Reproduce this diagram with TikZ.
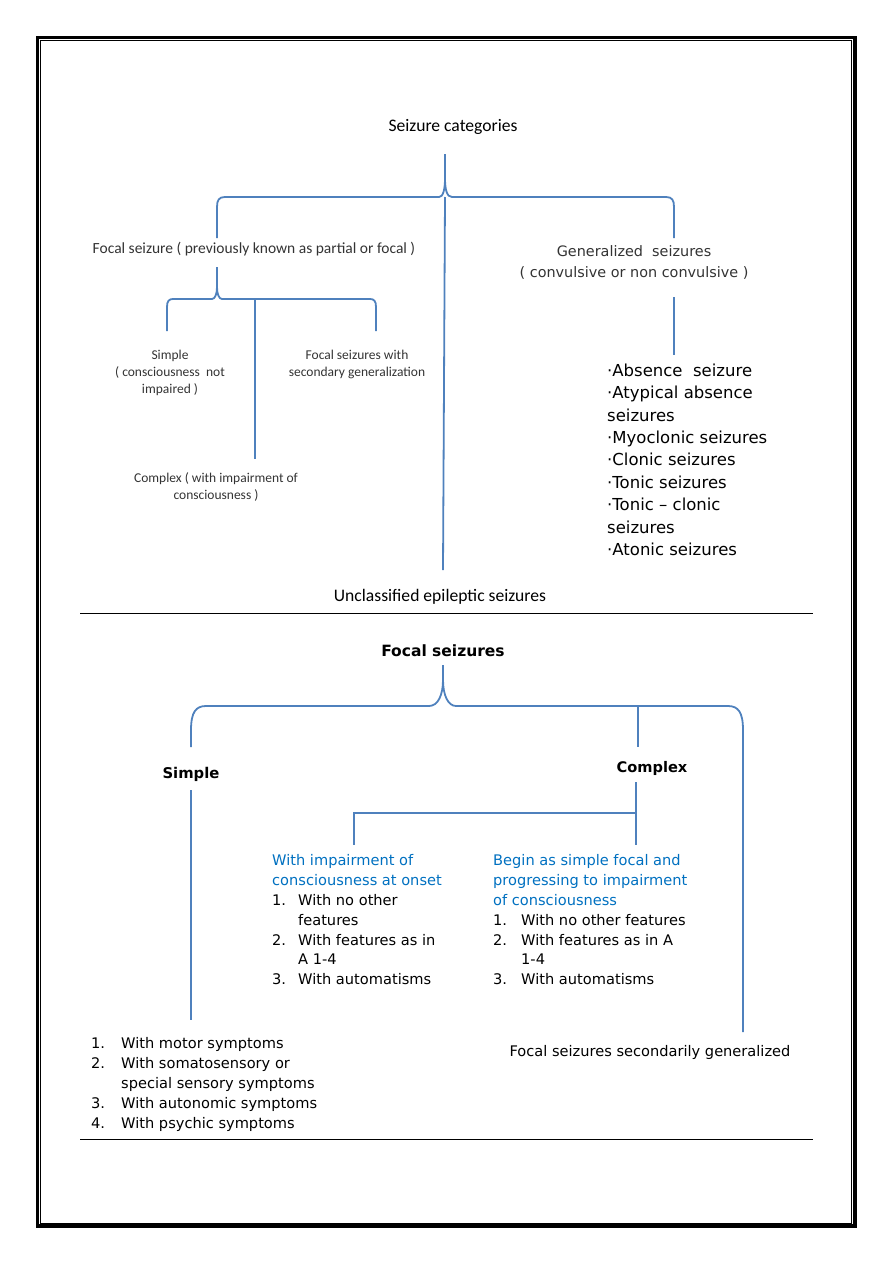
\documentclass[tikz,border=0pt]{standalone}
\usepackage{fontspec}
\setmainfont{Carlito}
\newfontfamily\comic{DejaVu Sans}

\definecolor{linkblue}{RGB}{79,129,189}
\definecolor{textblue}{RGB}{0,112,192}

\newcommand\bigcal{\fontsize{17.6}{21}\selectfont}
\newcommand\midcal{\fontsize{15.5}{19}\selectfont}
\newcommand\smallcal{\fontsize{13.5}{17}\selectfont}
\newcommand\comictext{\comic\fontsize{14.6}{19.9}\selectfont}

\tikzset{
  link/.style={draw=linkblue, line width=1.8pt},
  lbl/.style={inner sep=0pt, align=center},
  listbox/.style={inner sep=0pt, anchor=north west},
}

\begin{document}
\begin{tikzpicture}[x=1pt,y=-1pt]
\useasboundingbox (0,0) rectangle (893,1263);
% page frame
\draw[line width=3.3pt] (37.7,37.7) rectangle (855,1226);
\draw[line width=1pt] (40.8,40.8) rectangle (851.8,1223.3);
\draw[line width=1pt] (80,613) coordinate (ruleA) -- (813,613);
\draw[line width=1pt] (80,1139) coordinate (ruleB) -- (813,1139);

% seizure categories
\node[lbl,font=\bigcal] (cat) at (453,127) {Seizure categories};
\node[lbl,font=\midcal,text=black!80] (focal) at (254,249) {Focal seizure ( previously known as partial or focal )};
\node[lbl,font=\smallcal,text=black!80] (simple) at (170,373) {Simple\\( consciousness\ \ not\\impaired )};
\node[lbl,font=\smallcal,text=black!80] (secgen) at (357,364.5) {Focal seizures with\\secondary generalization};
\node[lbl,font=\smallcal,text=black!80] (complex) at (216,486.5) {Complex ( with impairment of\\consciousness )};
\node[lbl,font={\comic\fontsize{14.4}{21}\selectfont},text=black!80] (gen) at (634,262.5) {Generalized\ \ seizures\\( convulsive or non convulsive )};
\node[listbox] (genlist) at (607,360.3) {\comic\fontsize{16.5}{22.44}\selectfont
  \begin{tabular}{@{}l@{}}
  ·Absence\ \ seizure\\
  ·Atypical absence\\
  seizures\\
  ·Myoclonic seizures\\
  ·Clonic seizures\\
  ·Tonic seizures\\
  ·Tonic – clonic\\
  seizures\\
  ·Atonic seizures
  \end{tabular}};
\node[lbl,font=\bigcal] (unc) at (440,597) {Unclassified epileptic seizures};

\coordinate (catTip) at (445,154);
\coordinate (focEnd) at (217,238);
\coordinate (genEnd) at (674,238);
\draw[link] (focEnd) -- (217,207) .. controls (217,200) and (219,197) .. (225,197)
  -- (439,197) .. controls (443,197) and (445,190) .. (445,178) -- (catTip);
\draw[link] (genEnd) -- (674,207) .. controls (674,200) and (672,197) .. (666,197)
  -- (452,197) .. controls (447,197) and (445,190) .. (445,178);
\coordinate (uncTop) at (443,570);
\draw[link] (445,197) -- (uncTop);

\coordinate (focTip) at (217,267);
\coordinate (simEnd) at (167,331);
\coordinate (secEnd) at (376,331);
\draw[link] (simEnd) -- (167,307) .. controls (167,301) and (169,299) .. (173,299)
  -- (212,299) .. controls (215,299) and (217,294) .. (217,287) -- (focTip);
\draw[link] (secEnd) -- (376,307) .. controls (376,301) and (374,299) .. (370,299)
  -- (222,299) .. controls (219,299) and (217,294) .. (217,287);
\coordinate (cpxEnd) at (255,459);
\draw[link] (255,299) -- (cpxEnd);

\coordinate (genTop) at (674,297);
\coordinate (listTop) at (674,355);
\draw[link] (genTop) -- (listTop);

% focal seizures
\node[lbl,font={\comic\fontsize{15.5}{19}\selectfont\bfseries}] (fs) at (443,651) {Focal seizures};
\node[lbl,font={\comic\fontsize{14.8}{19}\selectfont\bfseries}] (bsimple) at (191,774) {Simple};
\node[lbl,font={\comic\fontsize{14.6}{19}\selectfont\bfseries}] (bcomplex) at (652,768) {Complex};
\node[listbox] (onset) at (272,851.3) {\comictext
  \begin{tabular}{@{}p{26pt}@{}l@{}}
  \multicolumn{2}{@{}l@{}}{\color{textblue}With impairment of}\\
  \multicolumn{2}{@{}l@{}}{\color{textblue}consciousness at onset}\\
  1. & With no other\\
     & features\\
  2. & With features as in\\
     & A 1-4\\
  3. & With automatisms
  \end{tabular}};
\node[listbox] (progr) at (493,851.3) {\comictext
  \begin{tabular}{@{}p{28pt}@{}l@{}}
  \multicolumn{2}{@{}l@{}}{\color{textblue}Begin as simple focal and}\\
  \multicolumn{2}{@{}l@{}}{\color{textblue}progressing to impairment}\\
  \multicolumn{2}{@{}l@{}}{\color{textblue}of consciousness}\\
  1. & With no other features\\
  2. & With features as in A\\
     & 1-4\\
  3. & With automatisms
  \end{tabular}};
\node[listbox] (simplelist) at (91,1034.3) {\comictext
  \begin{tabular}{@{}p{30pt}@{}l@{}}
  1. & With motor symptoms\\
  2. & With somatosensory or\\
     & special sensory symptoms\\
  3. & With autonomic symptoms\\
  4. & With psychic symptoms
  \end{tabular}};
\node[lbl,font=\comictext] (secondary) at (650,1052) {Focal seizures secondarily generalized};

\coordinate (fsTip) at (443,665);
\coordinate (bsimEnd) at (191,747);
\coordinate (secBot) at (743,1032);
\draw[link] (bsimEnd) -- (191,730) .. controls (191,712) and (196,706) .. (206,706)
  -- (429,706) .. controls (438,706) and (443,695) .. (443,680) -- (fsTip);
\draw[link] (secBot) -- (743,730) .. controls (743,712) and (738,706) .. (728,706)
  -- (456,706) .. controls (448,706) and (443,695) .. (443,680);
\coordinate (bsimLow) at (191,790);
\coordinate (bsimBot) at (191,1020);
\draw[link] (bsimLow) -- (bsimBot);
\coordinate (cpxTop) at (638,706);
\coordinate (cpxBot) at (638,747);
\draw[link] (cpxTop) -- (cpxBot);
\coordinate (cpxLow) at (636,782);
\coordinate (progTop) at (636,845);
\coordinate (onsetTop) at (354,845);
\draw[link] (cpxLow) -- (progTop);
\draw[link] (636,813) -- (354,813) -- (onsetTop);
\end{tikzpicture}
\end{document}
